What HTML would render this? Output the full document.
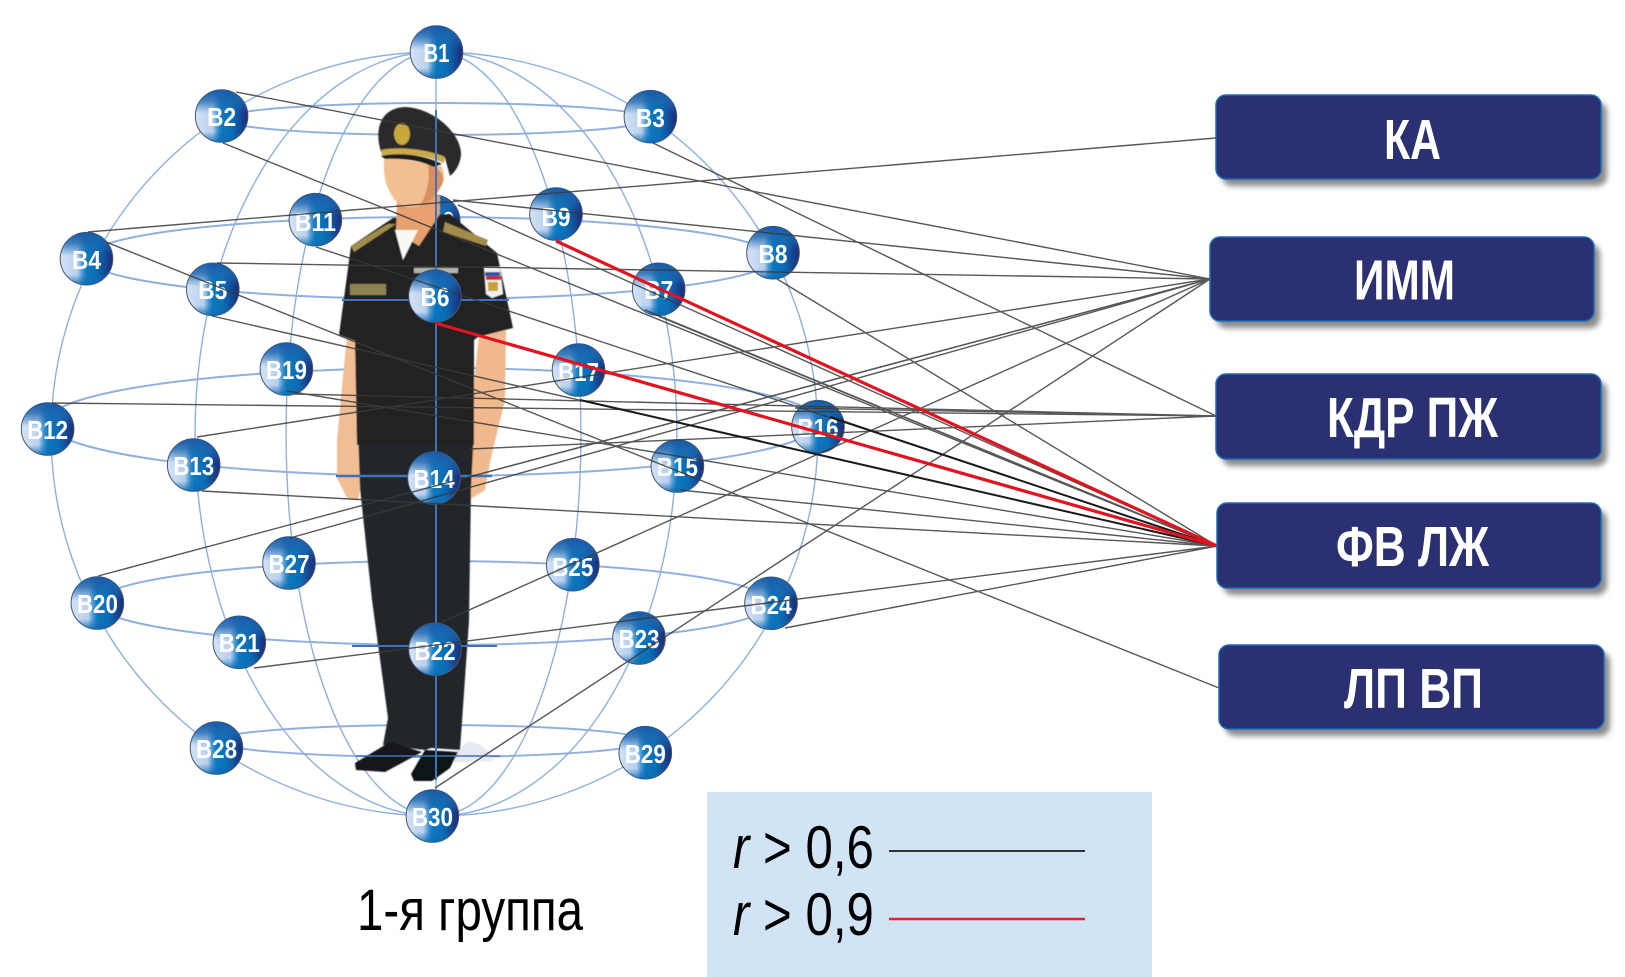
<!DOCTYPE html>
<html lang="ru">
<head>
<meta charset="utf-8">
<title>1-я группа</title>
<style>
html,body{margin:0;padding:0;background:#fff;}
svg{display:block;}
text{font-family:"Liberation Sans",sans-serif;}
.n{font-weight:bold;font-size:25.5px;fill:#fff;text-anchor:middle;}
.b{font-weight:bold;font-size:56.5px;fill:#fff;}
.t{font-size:60px;fill:#000;}
.g ellipse,.g path{fill:none;}
.nd{fill:url(#ng);stroke:#4a5568;stroke-width:1;}
.nv{fill:url(#nt);}
.bx{fill:#2a3071;stroke:#1a6ab5;stroke-width:1.5;}
.bs{fill:#8a8a8a;filter:url(#sh);}
</style>
</head>
<body>
<svg width="1625" height="977" viewBox="0 0 1625 977" xmlns="http://www.w3.org/2000/svg">
<defs>
<linearGradient id="ng" x1="0" y1="0" x2="1" y2="0">
<stop offset="0" stop-color="#d3e2f6"/>
<stop offset=".33" stop-color="#b8d0ee"/>
<stop offset=".43" stop-color="#3f92cf"/>
<stop offset=".5" stop-color="#0b79bf"/>
<stop offset=".7" stop-color="#0a6db5"/>
<stop offset="1" stop-color="#1c2a7a"/>
</linearGradient>
<linearGradient id="nt" x1="0" y1="0" x2="0" y2="1">
<stop offset="0" stop-color="#1b5aa6"/>
<stop offset=".2" stop-color="#1c66ae" stop-opacity=".8"/>
<stop offset=".45" stop-color="#1c6cb4" stop-opacity="0"/>
<stop offset=".8" stop-color="#1c6cb4" stop-opacity="0"/>
<stop offset="1" stop-color="#0a6db5" stop-opacity=".9"/>
</linearGradient>
<filter id="sh" x="-5%" y="-10%" width="115%" height="130%">
<feGaussianBlur stdDeviation="3"/>
</filter>
<filter id="soft" x="-5%" y="-5%" width="110%" height="110%">
<feGaussianBlur stdDeviation="0.5"/>
</filter>
</defs>

<rect width="1625" height="977" fill="#fff"/>

<!-- sphere grid -->
<g class="g" stroke="#8fb0de" stroke-width="1.4">
<path d="M436 52A385 382 0 0 0 436 816"/>
<path d="M436 52A382 382 0 0 1 436 816"/>
<path d="M436 52A241 382 0 0 0 436 816"/>
<path d="M436 52A241 382 0 0 1 436 816"/>
<path d="M436 52A150 382 0 0 0 436 816"/>
<path d="M436 52A145 382 0 0 1 436 816"/>
<path d="M436 52V816"/>
</g>
<g class="g" stroke="#8fb0de" stroke-width="2">
<ellipse cx="436" cy="119" rx="214" ry="16"/>
<ellipse cx="430" cy="258" rx="344" ry="41"/>
<ellipse cx="433" cy="422" rx="386" ry="54"/>
<ellipse cx="434" cy="603" rx="337" ry="42"/>
<ellipse cx="431" cy="741" rx="215" ry="16"/>
</g>

<!-- node behind the figure -->
<circle class="nd" cx="434" cy="221" r="26"/><circle class="nv" cx="434" cy="221" r="26"/>
<text class="n" x="434" y="230" textLength="41" lengthAdjust="spacingAndGlyphs">В10</text>

<!-- figure -->
<g filter="url(#soft)">
<path d="M468 742 C480 742 490 750 494 761 L440 763 Z" fill="#e6eaf0"/>
<path d="M347 335 L337 440 L337 478 L347 498 L358 500 L363 480 L360 440 L372 340 Z" fill="#f0bd95"/>
<path d="M479 335 L506 330 L505 400 L490 462 L485 490 L472 498 L460 490 L462 465 L472 400 Z" fill="#f0b98e"/>
<path d="M358 430 L360 488 L372 600 L388 718 L383 745 L425 750 L431 748 L460 750 L469 621 L471 488 L474 430 Z" fill="#24252a"/>
<path d="M351 246 L393 218 L450 214 L497 253 L513 328 L478 337 L474 340 L474 445 L357 445 L355 341 L339 335 Z" fill="#232420"/>
<path d="M355 763 L356 770 L385 772 L400 764 L422 752 L390 742 Z" fill="#16171a"/>
<path d="M411 774 L414 781 L432 781 L450 768 L458 752 L425 750 Z" fill="#111215"/>
<path d="M397 198 L396 232 L419 246 L440 214 L440 195 Z" fill="#e8a070"/>
<path d="M395 230 L418 230 L403 260 Z" fill="#f8f8f4"/>
<path d="M351 246 L388 224 L396 224 L354 252 Z" fill="#a28d4e"/>
<path d="M445 222 L488 240 L486 246 L443 232 Z" fill="#a28d4e"/>
<path d="M385 156 C382 170 385 184 391 194 C396 205 406 208 416 207 C428 205 436 196 441 186 C445 182 445 172 441 166 Z" fill="#f2c090"/>
<path d="M428 164 C436 166 444 172 443 182 C438 194 430 203 420 206 C428 192 430 178 428 164 Z" fill="#d98f60"/>
<path d="M381 152 C374 130 380 108 405 107 C435 108 462 135 461 155 C460 165 455 172 450 176 L445 158 Z" fill="#2a2b2a"/>
<path d="M381 150 C400 146 430 150 445 157 L444 163 C425 155 400 152 382 156 Z" fill="#c9a94c"/>
<path d="M381 156 C400 152 425 155 442 164 L434 167 C420 160 400 158 385 159 Z" fill="#1a1a1a"/>
<ellipse cx="402" cy="134" rx="8" ry="11" fill="#c6a83e"/>
<rect x="350" y="284" width="36" height="11" fill="#8d8350"/>
<path d="M484 267 L500 267 L503 294 L492 298 L486 294 Z" fill="#f0f0f0"/>
<rect x="485" y="272" width="15" height="4" fill="#2b55a5"/>
<rect x="486" y="276" width="15" height="4" fill="#c62f36"/>
<rect x="488" y="282" width="10" height="9" fill="#c9a233"/>
<rect x="414" y="268" width="44" height="5" fill="#b4b4a8"/>
</g>

<!-- front grid segments over the figure -->
<g fill="none" stroke="#3f72b8">
<path d="M436 110V780" stroke-width="2"/>
<path d="M342 300H509" stroke-width="2"/>
<path d="M336 476H492" stroke-width="2.4"/>
<path d="M352 646H497" stroke-width="2"/>
<path d="M356 756H500" stroke-width="1.6"/>
</g>

<!-- nodes -->
<g>
<circle class="nd" cx="436.500" cy="52" r="26.300"/><circle class="nv" cx="436.500" cy="52" r="26.300"/><text class="n" x="436.500" y="62" textLength="26" lengthAdjust="spacingAndGlyphs">В1</text>
<circle class="nd" cx="221.600" cy="116" r="26.300"/><circle class="nv" cx="221.600" cy="116" r="26.300"/><text class="n" x="221.600" y="126" textLength="29" lengthAdjust="spacingAndGlyphs">В2</text>
<circle class="nd" cx="650.400" cy="116.700" r="26.300"/><circle class="nv" cx="650.400" cy="116.700" r="26.300"/><text class="n" x="650.400" y="127" textLength="29" lengthAdjust="spacingAndGlyphs">В3</text>
<circle class="nd" cx="86.500" cy="258.700" r="26.300"/><circle class="nv" cx="86.500" cy="258.700" r="26.300"/><text class="n" x="86.500" y="269" textLength="29" lengthAdjust="spacingAndGlyphs">В4</text>
<circle class="nd" cx="212.800" cy="289.300" r="26.300"/><circle class="nv" cx="212.800" cy="289.300" r="26.300"/><text class="n" x="212.800" y="299" textLength="29" lengthAdjust="spacingAndGlyphs">В5</text>
<circle class="nd" cx="435" cy="296" r="26.300"/><circle class="nv" cx="435" cy="296" r="26.300"/><text class="n" x="435" y="306" textLength="29" lengthAdjust="spacingAndGlyphs">В6</text>
<circle class="nd" cx="658.700" cy="289.300" r="26.300"/><circle class="nv" cx="658.700" cy="289.300" r="26.300"/><text class="n" x="658.700" y="299" textLength="29" lengthAdjust="spacingAndGlyphs">В7</text>
<circle class="nd" cx="773" cy="252.700" r="26.300"/><circle class="nv" cx="773" cy="252.700" r="26.300"/><text class="n" x="773" y="263" textLength="29" lengthAdjust="spacingAndGlyphs">В8</text>
<circle class="nd" cx="556" cy="214" r="26.300"/><circle class="nv" cx="556" cy="214" r="26.300"/><text class="n" x="556" y="226" textLength="29" lengthAdjust="spacingAndGlyphs">В9</text>
<circle class="nd" cx="315.400" cy="219.700" r="26.300"/><circle class="nv" cx="315.400" cy="219.700" r="26.300"/><text class="n" x="315.400" y="231" textLength="41" lengthAdjust="spacingAndGlyphs">В11</text>
<circle class="nd" cx="47.600" cy="429" r="26.300"/><circle class="nv" cx="47.600" cy="429" r="26.300"/><text class="n" x="47.600" y="439" textLength="41" lengthAdjust="spacingAndGlyphs">В12</text>
<circle class="nd" cx="193.700" cy="465" r="26.300"/><circle class="nv" cx="193.700" cy="465" r="26.300"/><text class="n" x="193.700" y="475" textLength="41" lengthAdjust="spacingAndGlyphs">В13</text>
<circle class="nd" cx="434" cy="478" r="26.300"/><circle class="nv" cx="434" cy="478" r="26.300"/><text class="n" x="434" y="488" textLength="41" lengthAdjust="spacingAndGlyphs">В14</text>
<circle class="nd" cx="677.400" cy="466" r="26.300"/><circle class="nv" cx="677.400" cy="466" r="26.300"/><text class="n" x="677.400" y="476" textLength="41" lengthAdjust="spacingAndGlyphs">В15</text>
<circle class="nd" cx="818" cy="426.700" r="26.300"/><circle class="nv" cx="818" cy="426.700" r="26.300"/><text class="n" x="818" y="437" textLength="41" lengthAdjust="spacingAndGlyphs">В16</text>
<circle class="nd" cx="578.500" cy="370" r="26.300"/><circle class="nv" cx="578.500" cy="370" r="26.300"/><text class="n" x="578.500" y="381" textLength="41" lengthAdjust="spacingAndGlyphs">В17</text>
<circle class="nd" cx="286.400" cy="369" r="26.300"/><circle class="nv" cx="286.400" cy="369" r="26.300"/><text class="n" x="286.400" y="379" textLength="41" lengthAdjust="spacingAndGlyphs">В19</text>
<circle class="nd" cx="97.400" cy="603" r="26.300"/><circle class="nv" cx="97.400" cy="603" r="26.300"/><text class="n" x="97.400" y="613" textLength="41" lengthAdjust="spacingAndGlyphs">В20</text>
<circle class="nd" cx="239.300" cy="642.300" r="26.300"/><circle class="nv" cx="239.300" cy="642.300" r="26.300"/><text class="n" x="239.300" y="652" textLength="41" lengthAdjust="spacingAndGlyphs">В21</text>
<circle class="nd" cx="435" cy="649.300" r="26.300"/><circle class="nv" cx="435" cy="649.300" r="26.300"/><text class="n" x="435" y="660" textLength="41" lengthAdjust="spacingAndGlyphs">В22</text>
<circle class="nd" cx="639" cy="638" r="26.300"/><circle class="nv" cx="639" cy="638" r="26.300"/><text class="n" x="639" y="648" textLength="41" lengthAdjust="spacingAndGlyphs">В23</text>
<circle class="nd" cx="771" cy="603.300" r="26.300"/><circle class="nv" cx="771" cy="603.300" r="26.300"/><text class="n" x="771" y="614" textLength="41" lengthAdjust="spacingAndGlyphs">В24</text>
<circle class="nd" cx="572.800" cy="564.700" r="26.300"/><circle class="nv" cx="572.800" cy="564.700" r="26.300"/><text class="n" x="572.800" y="576" textLength="41" lengthAdjust="spacingAndGlyphs">В25</text>
<circle class="nd" cx="289" cy="563" r="26.300"/><circle class="nv" cx="289" cy="563" r="26.300"/><text class="n" x="289" y="573" textLength="41" lengthAdjust="spacingAndGlyphs">В27</text>
<circle class="nd" cx="216.500" cy="748" r="26.300"/><circle class="nv" cx="216.500" cy="748" r="26.300"/><text class="n" x="216.500" y="758" textLength="41" lengthAdjust="spacingAndGlyphs">В28</text>
<circle class="nd" cx="645.300" cy="752.700" r="26.300"/><circle class="nv" cx="645.300" cy="752.700" r="26.300"/><text class="n" x="645.300" y="763" textLength="41" lengthAdjust="spacingAndGlyphs">В29</text>
<circle class="nd" cx="432.400" cy="816" r="26.300"/><circle class="nv" cx="432.400" cy="816" r="26.300"/><text class="n" x="432.400" y="826" textLength="41" lengthAdjust="spacingAndGlyphs">В30</text>
</g>

<!-- correlation lines -->
<g stroke="#3a3a3a" stroke-width="1.4" fill="none" opacity=".85">
<path d="M88 232L1216 138"/>
<path d="M236 92L1210 279"/>
<path d="M453 200L1210 279"/>
<path d="M217 263L1210 279"/>
<path d="M197 437L1210 279"/>
<path d="M469 477L1210 279"/>
<path d="M290 538L1210 279"/>
<path d="M98 576L1210 279"/>
<path d="M440 623L1210 279"/>
<path d="M435 788L1210 279"/>
<path d="M653 143L1216 416"/>
<path d="M52 403L1216 416"/>
<path d="M295 394L1216 416"/>
<path d="M470 449L1216 416"/>
<path d="M795 408L1216 416"/>
<path d="M223 143L1217 546"/>
<path d="M458 205L1217 546"/>
<path d="M212 316L1217 546"/>
<path d="M316 247L1217 546"/>
<path d="M287 391L1217 546"/>
<path d="M202 491L1217 546"/>
<path d="M658 316L1217 546"/>
<path d="M645 310L1217 546"/>
<path d="M777 279L1217 546"/>
<path d="M680 490L1217 546"/>
<path d="M254 668L1217 546"/>
<path d="M785 628L1217 546"/>
<path d="M106 242L1219 688"/>
</g>
<g stroke="#1a1a1a" stroke-width="2" fill="none">
<path d="M580 400L1217 546"/>
<path d="M830 417L1217 546"/>
</g>
<g stroke="#e2131f" stroke-width="3.2" fill="none">
<path d="M556 241L1217 546"/>
<path d="M435 323L1217 546"/>
</g>

<!-- result boxes -->
<rect class="bs" x="1222" y="102" width="385" height="84" rx="10"/>
<rect class="bx" x="1216" y="95" width="385" height="84" rx="10"/>
<text class="b" x="1384" y="159" textLength="57" lengthAdjust="spacingAndGlyphs">КА</text>

<rect class="bs" x="1216" y="244" width="384" height="84" rx="10"/>
<rect class="bx" x="1210" y="237" width="384" height="84" rx="10"/>
<text class="b" x="1354" y="299.500" textLength="101" lengthAdjust="spacingAndGlyphs">ИММ</text>

<rect class="bs" x="1222" y="381" width="385" height="85" rx="10"/>
<rect class="bx" x="1216" y="374" width="385" height="85" rx="10"/>
<text class="b" x="1327" y="437" textLength="171" lengthAdjust="spacingAndGlyphs">КДР ПЖ</text>

<rect class="bs" x="1223" y="510" width="384" height="85" rx="10"/>
<rect class="bx" x="1217" y="503" width="384" height="85" rx="10"/>
<text class="b" x="1336" y="566" textLength="153" lengthAdjust="spacingAndGlyphs">ФВ ЛЖ</text>

<rect class="bs" x="1225" y="652" width="385" height="84" rx="10"/>
<rect class="bx" x="1219" y="645" width="385" height="84" rx="10"/>
<text class="b" x="1344" y="708" textLength="139" lengthAdjust="spacingAndGlyphs">ЛП ВП</text>

<!-- legend -->
<rect x="707" y="792" width="445" height="185" fill="#d1e4f6"/>
<text class="t" transform="translate(733 868) scale(.82 1)"><tspan font-style="italic">r</tspan> &gt; 0,6</text>
<text class="t" transform="translate(733 935) scale(.82 1)"><tspan font-style="italic">r</tspan> &gt; 0,9</text>
<path d="M889 851H1085" stroke="#333" stroke-width="2"/>
<path d="M889 919H1085" stroke="#ed1c2e" stroke-width="2.5"/>

<!-- caption -->
<text x="357" y="930" font-size="58" fill="#000" textLength="226" lengthAdjust="spacingAndGlyphs">1-я группа</text>
</svg>
</body>
</html>
